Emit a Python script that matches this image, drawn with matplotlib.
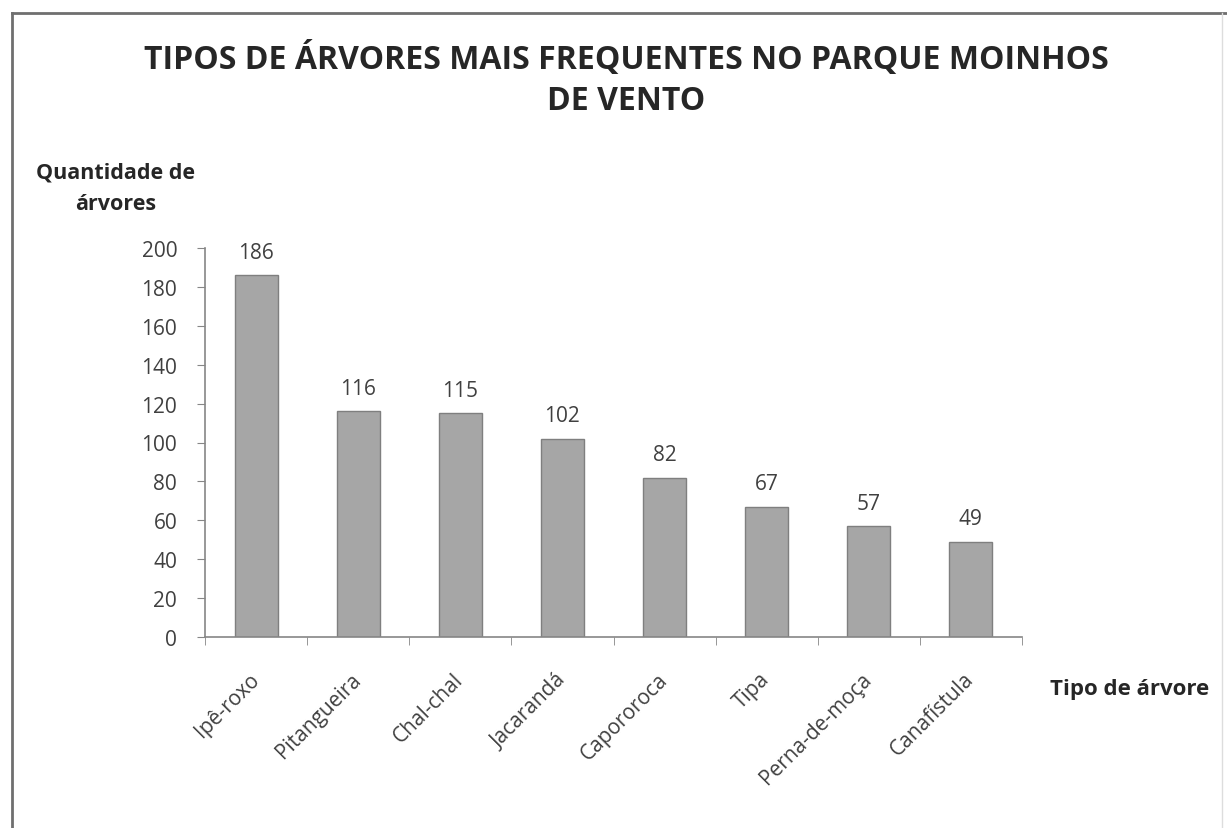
import matplotlib
matplotlib.use("Agg")
import matplotlib.pyplot as plt
from matplotlib.lines import Line2D

categories = ["Ipê-roxo", "Pitangueira", "Chal-chal", "Jacarandá", "Capororoca",
              "Tipa", "Perna-de-moça", "Canafístula"]
values = [186, 116, 115, 102, 82, 67, 57, 49]
yticks = [0, 20, 40, 60, 80, 100, 120, 140, 160, 180, 200]

W, H = 1227, 829
fig = plt.figure(figsize=(W / 100, H / 100), dpi=100)
fig.patch.set_facecolor("white")
plt.rcParams['font.family'] = ['Open Sans', 'DejaVu Sans']

ax = fig.add_axes([205 / W, 1 - 638 / H, (1022 - 205) / W, (638 - 249) / H])
x = list(range(len(categories)))
ax.bar(x, values, width=0.42, color="#a6a6a6", edgecolor="#7f7f7f", linewidth=1.0, zorder=2)
for xi, v in zip(x, values):
    ax.annotate(str(v), (xi, v), xytext=(0, 9), textcoords="offset points",
                ha="center", va="bottom", fontsize=15, color="#404040")

ax.set_xlim(-0.5, len(categories) - 0.5)
ax.set_ylim(0, 200)
ax.set_yticks(yticks)
ax.set_yticklabels([str(t) for t in yticks], fontsize=15, color="#404040")
ax.set_xticks(x)
ax.set_xticklabels(categories, rotation=45, ha="right", va="center",
                   rotation_mode="anchor", fontsize=15, color="#404040")
ax.tick_params(axis="x", length=0, pad=28)
ax.set_xticks([i - 0.5 for i in range(len(categories) + 1)], minor=True)
ax.tick_params(axis="x", which="minor", length=6, color="#868686", direction="out")
ax.tick_params(axis="y", length=6, color="#868686", direction="out", pad=14)
for s in ["top", "right"]:
    ax.spines[s].set_visible(False)
for s in ["left", "bottom"]:
    ax.spines[s].set_color("#868686")
    ax.spines[s].set_linewidth(1.2)

fig.text(626 / W, 1 - 60 / H, "TIPOS DE ÁRVORES MAIS FREQUENTES NO PARQUE MOINHOS",
         ha="center", va="center", fontsize=23, fontweight="bold", color="#262626")
fig.text(626 / W, 1 - 102 / H, "DE VENTO",
         ha="center", va="center", fontsize=23, fontweight="bold", color="#262626")
fig.text(116 / W, 1 - 189 / H, "Quantidade de\nárvores", ha="center", va="center",
         fontsize=15.5, fontweight="bold", color="#262626", linespacing=1.65)
fig.text(1130 / W, 1 - 690 / H, "Tipo de árvore", ha="center", va="center",
         fontsize=16, fontweight="bold", color="#262626")

# outer frame
fig.add_artist(Line2D([12 / W, 12 / W], [0, 1 - 14 / H], color="#6f6f6f", lw=2, transform=fig.transFigure))
fig.add_artist(Line2D([12 / W, 1], [1 - 14 / H, 1 - 14 / H], color="#6f6f6f", lw=2, transform=fig.transFigure))
fig.add_artist(Line2D([1222 / W, 1222 / W], [0, 1 - 14 / H], color="#dddddd", lw=1, transform=fig.transFigure))

fig.savefig("out.png", dpi=100, facecolor="white")
